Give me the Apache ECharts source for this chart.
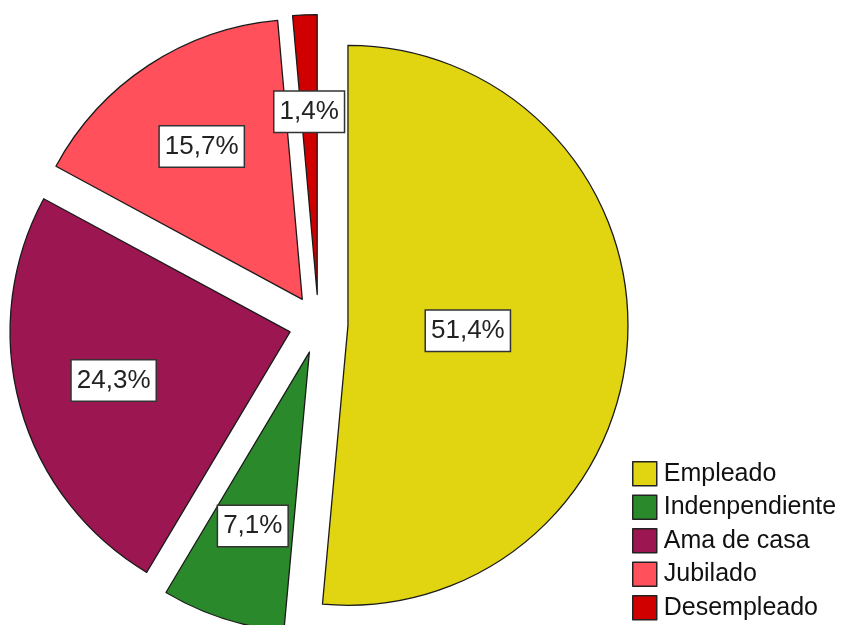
<!DOCTYPE html>
<html>
<head>
<meta charset="utf-8">
<script src="https://cdn.jsdelivr.net/npm/echarts@6/dist/echarts.min.js"></script>
<style>
html,body{margin:0;padding:0;background:#fff;}
#chart{width:843px;height:625px;}
</style>
</head>
<body>
<div id="chart"></div>
<script>
const categories = ['Empleado', 'Indenpendiente', 'Ama de casa', 'Jubilado', 'Desempleado'];
const percentages = [51.4, 7.1, 24.3, 15.7, 1.4];
const colors = ['#E1D512', '#2A8A2B', '#9C1652', '#FF505B', '#D10000'];

const FONT = '"Liberation Sans", Arial, sans-serif';
const chart = echarts.init(document.getElementById('chart'), null, {renderer: 'canvas'});

function fmt(p) { return p.value.toFixed(1).replace('.', ',') + '%'; }

const labelStyle = {
  show: true,
  position: 'inside',
  formatter: fmt,
  fontFamily: FONT,
  fontSize: 26,
  lineHeight: 30,
  color: '#222',
  backgroundColor: '#ffffff',
  borderColor: '#333',
  borderWidth: 1.5,
  padding: [5, 5, 5, 5]
};

const common = {
  type: 'pie',
  center: [318.5, 324],
  startAngle: 90,
  clockwise: true,
  selectedMode: 'multiple',
  selectedOffset: 29.5,
  avoidLabelOverlap: false,
  emphasis: {disabled: true},
  labelLine: {show: false}
};

function mainData() {
  return categories.map((c, i) => ({
    name: c, value: percentages[i], selected: true,
    itemStyle: {color: colors[i]}
  }));
}
function labelData(showFn) {
  return categories.map((c, i) => ({
    name: c, value: percentages[i], selected: true,
    label: {show: showFn(i)}
  }));
}

chart.setOption({
  animation: false,
  backgroundColor: '#ffffff',
  legend: {
    data: categories,
    orient: 'vertical',
    left: 632,
    top: 461,
    padding: 0,
    icon: 'rect',
    itemWidth: 24,
    itemHeight: 24,
    itemGap: 8,
    selectedMode: false,
    itemStyle: {borderColor: '#222', borderWidth: 1.5},
    textStyle: {fontFamily: FONT, fontSize: 25, color: '#111', padding: [0, 0, 0, 2]}
  },
  series: [
    Object.assign({}, common, {
      name: 'main',
      radius: [0, 280],
      itemStyle: {borderColor: '#1a1a1a', borderWidth: 1.3},
      label: {show: false},
      data: mainData()
    }),
    Object.assign({}, common, {
      name: 'labA',
      radius: [60, 174],
      silent: true,
      itemStyle: {color: 'rgba(0,0,0,0)', borderWidth: 0},
      label: labelStyle,
      data: labelData(i => i === 0)
    }),
    Object.assign({}, common, {
      name: 'labB',
      radius: [120, 240],
      silent: true,
      itemStyle: {color: 'rgba(0,0,0,0)', borderWidth: 0},
      label: labelStyle,
      data: labelData(i => i !== 0)
    })
  ]
});
</script>
</body>
</html>
